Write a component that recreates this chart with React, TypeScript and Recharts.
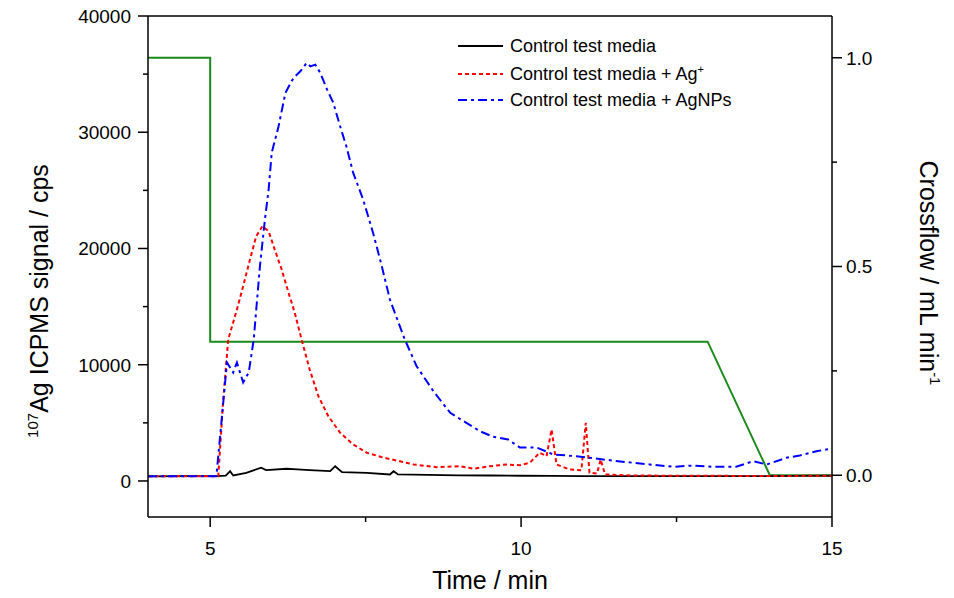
import React from 'react';
import { LineChart, Line, XAxis, YAxis, ReferenceLine } from 'recharts';

// Control test media (black, solid)
const controlTime = [4.0, 4.6, 5.1, 5.25, 5.32, 5.37, 5.58, 5.82, 5.9, 6.23, 6.4, 6.6, 6.93, 7.01, 7.12, 7.52, 7.89, 7.95, 8.02, 8.5, 9.0, 9.5, 10.0, 10.5, 11.0, 11.5, 12.0, 12.5, 13.0, 13.5, 14.0, 14.5, 15.0];
const controlSignal = [400, 420, 410, 450, 840, 470, 700, 1140, 930, 1050, 1000, 930, 840, 1270, 760, 700, 560, 840, 560, 520, 480, 470, 450, 430, 420, 420, 410, 410, 420, 410, 420, 430, 450];

// Control test media + Ag+ (red, dashed)
const ionTime = [4.0, 5.13, 5.21, 5.29, 5.43, 5.53, 5.64, 5.74, 5.84, 5.94, 6.04, 6.15, 6.26, 6.36, 6.47, 6.6, 6.74, 6.9, 7.09, 7.3, 7.52, 7.79, 8.05, 8.27, 8.64, 9.02, 9.23, 9.5, 9.77, 9.98, 10.14, 10.3, 10.41, 10.49, 10.57, 10.78, 10.97, 11.04, 11.1, 11.22, 11.28, 11.35, 11.8, 12.5, 13.2, 14.0, 14.5, 15.0];
const ionSignal = [400, 400, 7010, 12170, 14750, 16750, 19050, 21050, 21910, 21480, 19870, 18190, 16190, 14470, 12170, 9590, 7290, 5570, 4150, 3140, 2430, 2000, 1700, 1420, 1190, 1270, 1050, 1270, 1420, 1350, 1570, 2430, 2130, 4430, 1420, 990, 930, 5000, 700, 640, 1850, 560, 470, 450, 440, 430, 440, 450];

// Control test media + AgNPs (blue, dash-dot)
const npTime = [4.0, 5.1, 5.27, 5.37, 5.43, 5.53, 5.62, 5.7, 5.8, 5.88, 5.94, 5.99, 6.1, 6.21, 6.34, 6.45, 6.55, 6.61, 6.69, 6.77, 6.88, 6.98, 7.09, 7.19, 7.3, 7.46, 7.62, 7.76, 7.89, 8.13, 8.32, 8.59, 8.86, 9.12, 9.34, 9.55, 9.79, 9.98, 10.25, 10.52, 10.89, 11.32, 11.7, 12.07, 12.45, 12.77, 13.09, 13.46, 13.73, 13.95, 14.27, 14.48, 14.75, 14.91, 15.0];
const npSignal = [400, 410, 10190, 9330, 10190, 8470, 9330, 12170, 18470, 22490, 25070, 28250, 30510, 33390, 34680, 35240, 35960, 35670, 35820, 35110, 33670, 32530, 30510, 28790, 26500, 24210, 21340, 18470, 15610, 12170, 9870, 7720, 5860, 5000, 4280, 3800, 3570, 2880, 2880, 2280, 2130, 1850, 1620, 1420, 1220, 1330, 1220, 1220, 1700, 1420, 2000, 2190, 2560, 2710, 2800];

// Crossflow programme (green, right axis)
const flowTime = [4, 5, 5, 13, 14, 15];
const flowRate = [1.0, 1.0, 0.32, 0.32, 0, 0];

const xTicks = [5, 7.5, 10, 12.5, 15];
const leftTicks = [0, 5000, 10000, 15000, 20000, 25000, 30000, 35000, 40000];
const rightTicks = [0, 0.25, 0.5, 0.75, 1.0];

const zip = (t: number[], v: number[]) => t.map((x, i) => ({ t: x, v: v[i] }));
const controlData = zip(controlTime, controlSignal);
const ionData = zip(ionTime, ionSignal);
const npData = zip(npTime, npSignal);
const flowData = zip(flowTime, flowRate);

const FONT = '"Liberation Sans", Arial, Helvetica, sans-serif';
const TICK_FS = 19;
const TITLE_FS = 25;

const LeftTick = (props: any) => {
  const { x, y, payload } = props;
  const major = payload.value % 10000 === 0;
  const len = major ? 10 : 5;
  return (
    <g>
      <line x1={x - len} x2={x} y1={y} y2={y} stroke="#000" strokeWidth={1.5} />
      {major && (
        <text x={x - 17} y={y} dy="0.36em" textAnchor="end" fontSize={TICK_FS} fontFamily={FONT} fill="#000">
          {payload.value}
        </text>
      )}
    </g>
  );
};

const RightTick = (props: any) => {
  const { x, y, payload } = props;
  const major = Math.abs(payload.value * 2 - Math.round(payload.value * 2)) < 1e-6;
  const len = major ? 10 : 5;
  return (
    <g>
      <line x1={x} x2={x + len} y1={y} y2={y} stroke="#000" strokeWidth={1.5} />
      {major && (
        <text x={x + 14} y={y} dy="0.36em" textAnchor="start" fontSize={TICK_FS} fontFamily={FONT} fill="#000">
          {payload.value.toFixed(1)}
        </text>
      )}
    </g>
  );
};

const BottomTick = (props: any) => {
  const { x, y, payload } = props;
  const major = Number.isInteger(payload.value);
  const len = major ? 10 : 5;
  return (
    <g>
      <line x1={x} x2={x} y1={y} y2={y + len} stroke="#000" strokeWidth={1.5} />
      {major && (
        <text x={x} y={y + 38} textAnchor="middle" fontSize={TICK_FS} fontFamily={FONT} fill="#000">
          {payload.value}
        </text>
      )}
    </g>
  );
};

const LeftTitle = () => (
  <text transform="rotate(-90 48 301)" x={48} y={301} textAnchor="middle" fontSize={TITLE_FS} fontFamily={FONT} fill="#000">
    <tspan fontSize={15} dy={-10}>107</tspan>
    <tspan dy={10}>Ag ICPMS signal / cps</tspan>
  </text>
);

const RightTitle = () => (
  <text transform="rotate(90 920 273)" x={920} y={273} textAnchor="middle" fontSize={TITLE_FS} fontFamily={FONT} fill="#000">
    <tspan>Crossflow / mL min</tspan>
    <tspan fontSize={15} dy={-10}>-1</tspan>
  </text>
);

const BottomTitle = () => (
  <text x={490} y={589} textAnchor="middle" fontSize={TITLE_FS} fontFamily={FONT} fill="#000">
    Time / min
  </text>
);

const legendItems = [
  { label: 'Control test media', sup: '', color: '#000000', dash: undefined as string | undefined, top: 46 },
  { label: 'Control test media + Ag', sup: '+', color: '#ff0000', dash: '4 3', top: 74 },
  { label: 'Control test media + AgNPs', sup: '', color: '#0000ff', dash: '9 4 3 4', top: 100 },
];

const ChartLegend = () => (
  <div style={{ position: 'absolute', left: 0, top: 0, pointerEvents: 'none' }}>
    {legendItems.map(item => (
      <div
        key={item.label}
        style={{ position: 'absolute', left: 458, top: item.top - 12, height: 24, display: 'flex', alignItems: 'center', whiteSpace: 'nowrap' }}
      >
        <svg width={46} height={24}>
          <line x1={0} x2={45} y1={12} y2={12} stroke={item.color} strokeWidth={2} strokeDasharray={item.dash} />
        </svg>
        <span style={{ marginLeft: 6, fontSize: 18, fontFamily: FONT, color: '#000' }}>
          {item.label}
          {item.sup && <sup style={{ fontSize: 11 }}>{item.sup}</sup>}
        </span>
      </div>
    ))}
  </div>
);

export default function App() {
  return (
    <div style={{ position: 'absolute', left: 0, top: 0, width: 954, height: 598, background: '#fff' }}>
      <LineChart width={954} height={598} margin={{ top: 16, right: 0, bottom: 0, left: 0 }}>
        <XAxis
          dataKey="t"
          type="number"
          domain={[4, 15]}
          ticks={xTicks}
          allowDataOverflow
          height={81}
          tickSize={0}
          tickMargin={0}
          tickLine={false}
          tick={<BottomTick />}
          axisLine={{ stroke: '#000', strokeWidth: 1.5 }}
          label={<BottomTitle />}
        />
        <YAxis
          yAxisId="left"
          orientation="left"
          type="number"
          domain={[-3100, 40000]}
          ticks={leftTicks}
          allowDataOverflow
          width={148}
          tickSize={0}
          tickMargin={0}
          tickLine={false}
          tick={<LeftTick />}
          axisLine={{ stroke: '#000', strokeWidth: 1.5 }}
          label={<LeftTitle />}
        />
        <YAxis
          yAxisId="right"
          orientation="right"
          type="number"
          domain={[-0.1, 1.1]}
          ticks={rightTicks}
          allowDataOverflow
          width={122}
          tickSize={0}
          tickMargin={0}
          tickLine={false}
          tick={<RightTick />}
          axisLine={{ stroke: '#000', strokeWidth: 1.5 }}
          label={<RightTitle />}
        />
        <ReferenceLine yAxisId="left" y={40000} stroke="#000" strokeWidth={1.5} />
        <Line yAxisId="right" data={flowData} dataKey="v" type="linear" stroke="#1a8a1a" strokeWidth={2} dot={false} isAnimationActive={false} />
        <Line yAxisId="left" data={controlData} dataKey="v" type="linear" stroke="#000000" strokeWidth={1.8} dot={false} isAnimationActive={false} />
        <Line yAxisId="left" data={ionData} dataKey="v" type="linear" stroke="#ff0000" strokeWidth={2} strokeDasharray="4 3" dot={false} isAnimationActive={false} />
        <Line yAxisId="left" data={npData} dataKey="v" type="linear" stroke="#0000ff" strokeWidth={2} strokeDasharray="9 4 3 4" dot={false} isAnimationActive={false} />
      </LineChart>
      <ChartLegend />
    </div>
  );
}
